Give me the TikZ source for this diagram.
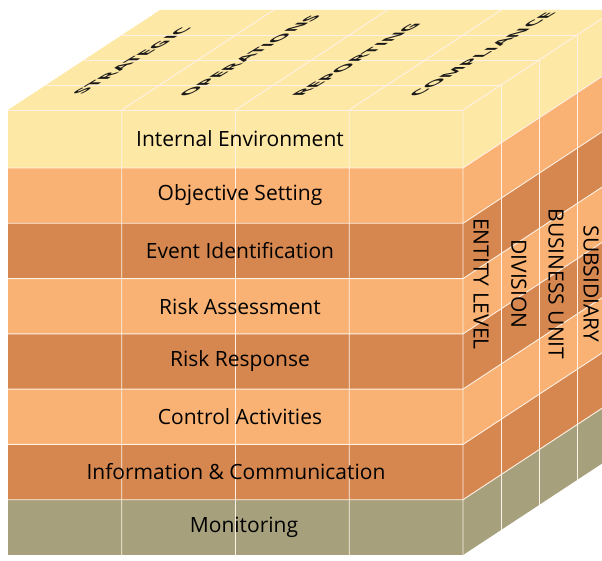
\documentclass[tikz,border=0pt]{standalone}
\usepackage{fontspec}
\setmainfont{Open Sans}
\definecolor{paleyel}{HTML}{FEE8A6}
\definecolor{liteor}{HTML}{F9B273}
\definecolor{darkor}{HTML}{D5874F}
\definecolor{olivegr}{HTML}{A6A17C}
\definecolor{gridln}{HTML}{FFF1E6}
\tikzset{
  gridline/.style={gridln, line width=0.9pt},
  facelabel/.style={font=\fontsize{21}{21}\selectfont, text=black},
  sidelabel/.style={font=\fontsize{21}{21}\selectfont, text=black, rotate=-90},
  toplabel/.style={font=\fontsize{15}{15}\selectfont\bfseries, text=black!90, anchor=base west, transform shape},
}

\begin{document}
\begin{tikzpicture}[x=1pt,y=1pt]
	\clip (0,0) rectangle (602,560);
	% top face
	\fill [paleyel] (8,450) -- (463,450) -- (615,550) -- (160,550) -- cycle;
	% front face
	\fill [paleyel] (8,392) rectangle (463,450);
	\fill [liteor] (8,336.7) rectangle (463,392);
	\fill [darkor] (8,281.4) rectangle (463,336.7);
	\fill [liteor] (8,226.1) rectangle (463,281.4);
	\fill [darkor] (8,170.9) rectangle (463,226.1);
	\fill [liteor] (8,115.6) rectangle (463,170.9);
	\fill [darkor] (8,60.3) rectangle (463,115.6);
	\fill [olivegr] (8,5) rectangle (463,60.3);
	% right face
	\fill [paleyel] (463,392) -- (463,450) -- ++(152,100) -- ++(0,-58) -- cycle;
	\fill [liteor] (463,336.7) -- (463,392) -- ++(152,100) -- ++(0,-55.3) -- cycle;
	\fill [darkor] (463,281.4) -- (463,336.7) -- ++(152,100) -- ++(0,-55.3) -- cycle;
	\fill [liteor] (463,226.1) -- (463,281.4) -- ++(152,100) -- ++(0,-55.3) -- cycle;
	\fill [darkor] (463,170.9) -- (463,226.1) -- ++(152,100) -- ++(0,-55.2) -- cycle;
	\fill [liteor] (463,115.6) -- (463,170.9) -- ++(152,100) -- ++(0,-55.3) -- cycle;
	\fill [darkor] (463,60.3) -- (463,115.6) -- ++(152,100) -- ++(0,-55.3) -- cycle;
	\fill [olivegr] (463,5) -- (463,60.3) -- ++(152,100) -- ++(0,-55.3) -- cycle;
	% grid: columns
	\draw [gridline] (121.75,5) -- (121.75,450) -- ++(152,100);
	\draw [gridline] (235.5,5) -- (235.5,450) -- ++(152,100);
	\draw [gridline] (349.25,5) -- (349.25,450) -- ++(152,100);
	\draw [gridline] (463,5) -- (463,450) -- ++(152,100);
	% grid: levels
	\draw [gridline] (8,450) -- (463,450);
	\draw [gridline] (46,475) -- (501,475) -- (501,30);
	\draw [gridline] (84,500) -- (539,500) -- (539,55);
	\draw [gridline] (122,525) -- (577,525) -- (577,80);
	% grid: bands
	\draw [gridline] (8,392) -- (463,392) -- ++(152,100);
	\draw [gridline] (8,336.7) -- (463,336.7) -- ++(152,100);
	\draw [gridline] (8,281.4) -- (463,281.4) -- ++(152,100);
	\draw [gridline] (8,226.1) -- (463,226.1) -- ++(152,100);
	\draw [gridline] (8,170.9) -- (463,170.9) -- ++(152,100);
	\draw [gridline] (8,115.6) -- (463,115.6) -- ++(152,100);
	\draw [gridline] (8,60.3) -- (463,60.3) -- ++(152,100);
	% labels
	\node [facelabel] (ie) at (240,421) {Internal Environment};
	\node [facelabel] (os) at (240,365) {Objective Setting};
	\node [facelabel] (ei) at (240,309) {Event Identification};
	\node [facelabel] (ra) at (240,253.8) {Risk Assessment};
	\node [facelabel] (rr) at (240,198.5) {Risk Response};
	\node [facelabel] (ca) at (240,143.3) {Control Activities};
	\node [facelabel] (ic) at (236,88) {Information \& Communication};
	\node [facelabel] (mo) at (244,32.7) {Monitoring};
	\node [sidelabel] (el) at (481,276) {ENTITY LEVEL};
	\node [sidelabel] (dv) at (519,276) {DIVISION};
	\node [sidelabel] (bu) at (556,276) {BUSINESS UNIT};
	\node [sidelabel] (sb) at (591,276) {SUBSIDIARY};
	\begin{scope}[cm={1.41,0.86,-1,0,(77,462)}]
		\node [toplabel] (st) at (0,0) {STRATEGIC};
	\end{scope}
	\begin{scope}[cm={1.41,0.86,-1,0,(183,460)}]
		\node [toplabel] (op) at (0,0) {OPERATIONS};
	\end{scope}
	\begin{scope}[cm={1.41,0.86,-1,0,(296,460)}]
		\node [toplabel] (rp) at (0,0) {REPORTING};
	\end{scope}
	\begin{scope}[cm={1.41,0.86,-1,0,(413,460)}]
		\node [toplabel] (cp) at (0,0) {COMPLIANCE};
	\end{scope}
\end{tikzpicture}
\end{document}
